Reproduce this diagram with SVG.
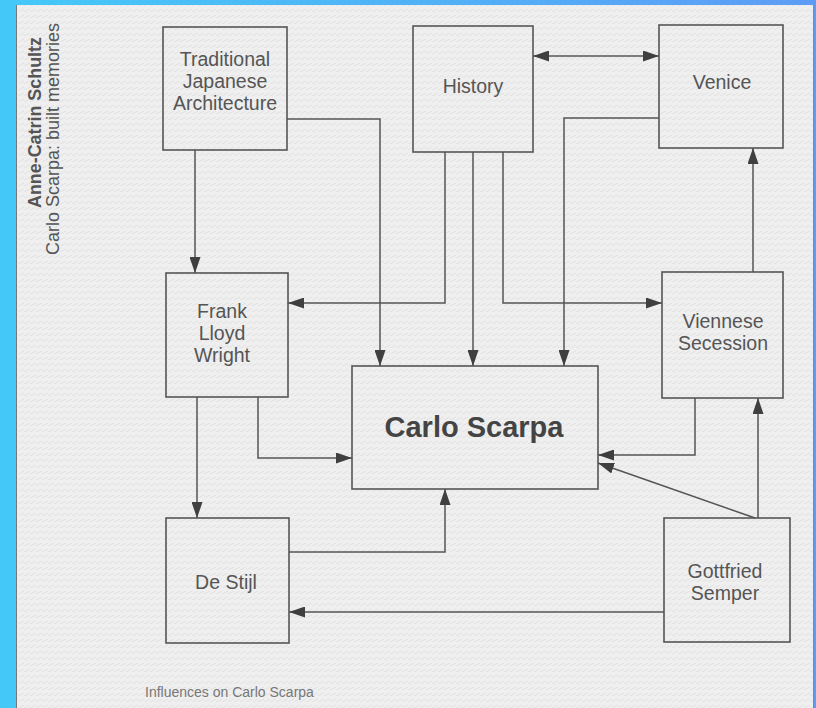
<svg xmlns="http://www.w3.org/2000/svg" width="816" height="708" viewBox="0 0 816 708">
<defs>
<linearGradient id="bg" x1="0" y1="0" x2="1" y2="0">
<stop offset="0" stop-color="#44c9f7"/>
<stop offset="1" stop-color="#5d9cf6"/>
</linearGradient>
<pattern id="tex" width="6" height="6" patternUnits="userSpaceOnUse">
<rect width="6" height="6" fill="#efefef"/>
<path d="M0 6 L6 3" stroke="#dcdcdc" stroke-width="0.8"/>
</pattern>
<marker id="ah" viewBox="0 0 16 11" refX="16" refY="5.5" markerWidth="16" markerHeight="11" markerUnits="userSpaceOnUse" orient="auto-start-reverse">
<path d="M0 0 L16 5.5 L0 11 Z" fill="#3f3f3f"/>
</marker>
<style>
.box{fill:none;stroke:#555;stroke-width:1.6}
.lbl{font-family:"Liberation Sans",Arial,sans-serif;font-size:19.5px;fill:#555;text-anchor:middle}
.main{font-family:"Liberation Sans",Arial,sans-serif;font-size:29px;font-weight:bold;fill:#444;text-anchor:middle}
.con{fill:none;stroke:#555;stroke-width:1.5}
.side{font-family:"Liberation Sans",Arial,sans-serif;fill:#555}
</style>
</defs>
<rect width="816" height="708" fill="url(#bg)"/>
<rect x="16" y="5" width="798" height="703" fill="url(#tex)"/>
<line x1="16.5" y1="5" x2="16.5" y2="708" stroke="#777" stroke-width="1"/>
<line x1="813.5" y1="5" x2="813.5" y2="708" stroke="#888" stroke-width="1"/>

<g id="side-text">
<text class="side" transform="translate(41,208) rotate(-90)" font-size="17.9" font-weight="bold">Anne-Catrin Schultz</text>
<text class="side" transform="translate(59,255) rotate(-90)" font-size="18">Carlo Scarpa: built memories</text>
</g>

<g id="connectors">
<line class="con" x1="533" y1="56" x2="659" y2="56" marker-start="url(#ah)" marker-end="url(#ah)"/>
<line class="con" x1="195" y1="150" x2="195" y2="273" marker-end="url(#ah)"/>
<polyline class="con" points="287,119 380,119 380,366" marker-end="url(#ah)"/>
<polyline class="con" points="445,152 445,303 288,303" marker-end="url(#ah)"/>
<line class="con" x1="473" y1="152" x2="473" y2="366" marker-end="url(#ah)"/>
<polyline class="con" points="503,152 503,303 662,303" marker-end="url(#ah)"/>
<polyline class="con" points="659,118 564,118 564,366" marker-end="url(#ah)"/>
<line class="con" x1="753" y1="272" x2="753" y2="148" marker-end="url(#ah)"/>
<line class="con" x1="197" y1="397" x2="197" y2="518" marker-end="url(#ah)"/>
<polyline class="con" points="258,397 258,458 352,458" marker-end="url(#ah)"/>
<polyline class="con" points="695,398 695,455 598,455" marker-end="url(#ah)"/>
<line class="con" x1="755" y1="518" x2="598" y2="463" marker-end="url(#ah)"/>
<line class="con" x1="758" y1="518" x2="758" y2="398" marker-end="url(#ah)"/>
<line class="con" x1="664" y1="612" x2="289" y2="612" marker-end="url(#ah)"/>
<polyline class="con" points="289,552 445,552 445,489" marker-end="url(#ah)"/>
</g>

<g id="traditional-japanese-architecture">
<rect class="box" x="163" y="27" width="124" height="123"/>
<text class="lbl" x="225" y="66">Traditional</text>
<text class="lbl" x="225" y="88">Japanese</text>
<text class="lbl" x="225" y="110">Architecture</text>
</g>
<g id="history">
<rect class="box" x="413" y="26" width="120" height="126"/>
<text class="lbl" x="473" y="93">History</text>
</g>
<g id="venice">
<rect class="box" x="659" y="25" width="124" height="123"/>
<text class="lbl" x="722" y="89">Venice</text>
</g>
<g id="frank-lloyd-wright">
<rect class="box" x="166" y="273" width="122" height="124"/>
<text class="lbl" x="222" y="318">Frank</text>
<text class="lbl" x="222" y="340">Lloyd</text>
<text class="lbl" x="222" y="362">Wright</text>
</g>
<g id="viennese-secession">
<rect class="box" x="662" y="272" width="121" height="126"/>
<text class="lbl" x="723" y="328">Viennese</text>
<text class="lbl" x="723" y="350">Secession</text>
</g>
<g id="carlo-scarpa">
<rect class="box" x="352" y="366" width="246" height="123"/>
<text class="main" x="474" y="437">Carlo Scarpa</text>
</g>
<g id="de-stijl">
<rect class="box" x="166" y="518" width="123" height="125"/>
<text class="lbl" x="226" y="589">De Stijl</text>
</g>
<g id="gottfried-semper">
<rect class="box" x="664" y="518" width="126" height="124"/>
<text class="lbl" x="725" y="578">Gottfried</text>
<text class="lbl" x="725" y="600">Semper</text>
</g>
<text id="caption" x="145" y="697" font-family="'Liberation Sans',Arial,sans-serif" font-size="14" fill="#777">Influences on Carlo Scarpa</text>
</svg>
